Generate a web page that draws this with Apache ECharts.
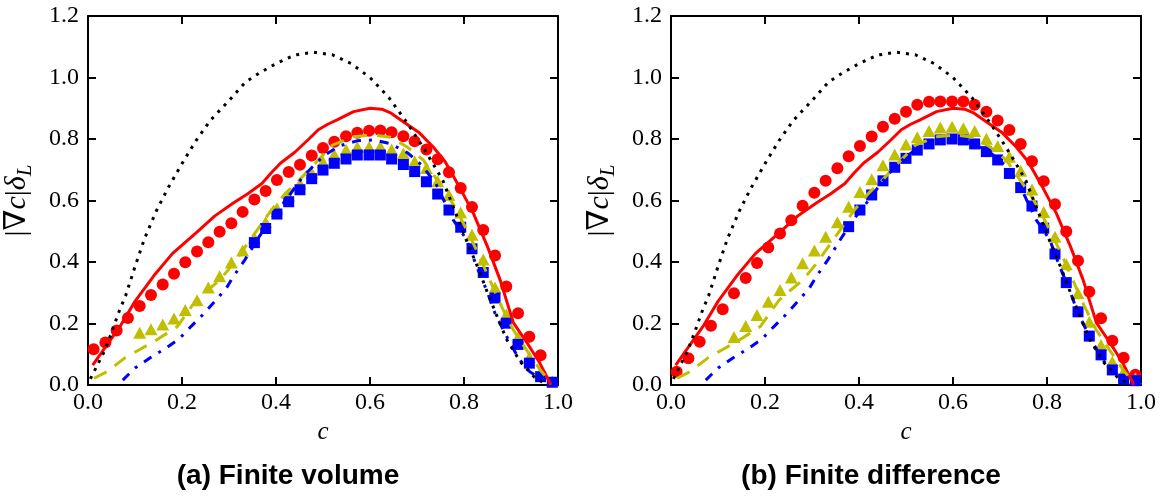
<!DOCTYPE html>
<html>
<head>
<meta charset="utf-8">
<script src="https://cdn.jsdelivr.net/npm/echarts@6/dist/echarts.min.js"></script>
<style>
html,body{margin:0;padding:0;background:#fff;}
#chart{width:1172px;height:499px;}
</style>
</head>
<body>
<div id="chart"></div>
<script>
// ---------- tick labels ----------
const xTickLabels = ['0.0','0.2','0.4','0.6','0.8','1.0'];
const yTickLabels = ['0.0','0.2','0.4','0.6','0.8','1.0','1.2'];
const panelTitles = ['(a) Finite volume', '(b) Finite difference'];

// ---------- marker c positions ----------
const cMarkers = [0.012,0.037,0.061,0.085,0.110,0.134,0.159,0.183,0.207,0.232,0.256,0.280,0.305,0.329,0.354,0.378,0.402,0.427,0.451,0.476,0.500,0.524,0.549,0.573,0.598,0.622,0.646,0.671,0.695,0.720,0.744,0.768,0.793,0.817,0.841,0.866,0.890,0.915,0.939,0.963,0.988];

// ---------- (a) finite volume markers ----------
const fvCircles = [0.116,0.138,0.177,0.218,0.257,0.293,0.327,0.362,0.399,0.434,0.464,0.498,0.526,0.563,0.603,0.631,0.667,0.693,0.716,0.746,0.771,0.791,0.809,0.820,0.827,0.828,0.822,0.809,0.793,0.766,0.734,0.692,0.641,0.579,0.504,0.421,0.320,0.233,0.157,0.097,null];
const fvTriangles = [null,null,null,null,0.170,0.181,0.197,0.216,0.244,0.276,0.317,0.354,0.398,0.437,0.479,0.530,0.575,0.615,0.655,0.690,0.725,0.750,0.765,0.774,0.774,0.776,0.766,0.753,0.728,0.706,0.663,0.618,0.561,0.489,0.408,0.317,0.229,0.155,0.090,0.040,0.012];
const fvSquares = [null,null,null,null,null,null,null,null,null,null,null,null,null,null,0.463,0.509,0.556,0.596,0.635,0.671,0.699,0.721,0.735,0.748,0.748,0.748,0.735,0.717,0.694,0.661,0.621,0.569,0.513,0.443,0.366,0.283,0.201,0.132,0.071,0.027,0.009];

// ---------- (b) finite difference markers ----------
const fdCircles = [0.043,0.087,0.141,0.193,0.246,0.298,0.348,0.397,0.447,0.493,0.536,0.583,0.625,0.664,0.705,0.744,0.777,0.808,0.840,0.866,0.889,0.911,0.921,0.922,0.922,0.922,0.911,0.889,0.860,0.829,0.784,0.728,0.663,0.588,0.499,0.404,0.303,0.217,0.144,0.089,0.033];
const fdTriangles = [null,null,null,null,null,0.156,0.192,0.228,0.271,0.309,0.350,0.396,0.437,0.482,0.529,0.580,0.628,0.669,0.715,0.750,0.782,0.806,0.826,0.837,0.840,0.835,0.826,0.801,0.777,0.742,0.697,0.636,0.563,0.482,0.393,0.298,0.206,0.130,0.076,0.043,0.022];
const fdSquares = [null,null,null,null,null,null,null,null,null,null,null,null,null,null,null,0.515,0.569,0.618,0.664,0.708,0.737,0.764,0.784,0.797,0.800,0.797,0.784,0.759,0.732,0.688,0.642,0.582,0.510,0.426,0.333,0.238,0.159,0.098,0.049,0.019,0.014];

// ---------- reference lines (same in both panels) ----------
const laminarC = [0.005,0.02,0.035,0.05,0.065,0.08,0.10,0.12,0.145,0.17,0.20,0.23,0.26,0.30,0.335,0.365,0.40,0.44,0.48,0.52,0.56,0.60,0.64,0.68,0.71,0.73,0.755,0.80,0.83,0.85,0.87,0.89,0.92,0.95,0.975];
const laminarV = [0.020,0.065,0.110,0.170,0.235,0.290,0.385,0.475,0.565,0.640,0.720,0.795,0.860,0.925,0.985,1.015,1.045,1.073,1.082,1.074,1.045,1.000,0.935,0.850,0.780,0.730,0.665,0.490,0.380,0.300,0.225,0.150,0.075,0.025,0.002];

const redC = [0.01,0.04,0.07,0.10,0.14,0.18,0.23,0.27,0.31,0.34,0.37,0.39,0.41,0.44,0.47,0.49,0.51,0.53,0.565,0.60,0.625,0.645,0.67,0.705,0.735,0.76,0.79,0.82,0.85,0.877,0.905,0.935,0.96,0.985];
const redV = [0.065,0.130,0.195,0.272,0.355,0.428,0.495,0.550,0.593,0.622,0.655,0.690,0.722,0.757,0.800,0.830,0.848,0.862,0.889,0.900,0.897,0.884,0.857,0.820,0.773,0.726,0.645,0.558,0.450,0.341,0.203,0.135,0.075,0.000];

const yellowC = [0.013,0.04,0.08,0.14,0.19,0.21,0.23,0.255,0.28,0.31,0.335,0.365,0.39,0.42,0.45,0.49,0.52,0.565,0.607,0.643,0.678,0.713,0.738,0.763,0.784,0.806,0.83,0.855,0.88,0.905,0.933,0.962,0.983];
const yellowV = [0.022,0.043,0.090,0.141,0.190,0.233,0.276,0.309,0.341,0.396,0.450,0.515,0.569,0.623,0.667,0.732,0.780,0.807,0.813,0.806,0.775,0.732,0.677,0.623,0.569,0.504,0.428,0.341,0.255,0.179,0.114,0.049,0.011];

const blueC = [0.074,0.10,0.134,0.166,0.194,0.219,0.244,0.269,0.294,0.308,0.333,0.364,0.393,0.421,0.457,0.485,0.504,0.536,0.572,0.608,0.643,0.68,0.71,0.74,0.777,0.806,0.827,0.848,0.866,0.898,0.919,0.94,0.969];
const blueV = [0.016,0.055,0.090,0.120,0.150,0.190,0.228,0.271,0.314,0.350,0.405,0.482,0.547,0.602,0.677,0.721,0.748,0.778,0.794,0.797,0.785,0.755,0.715,0.655,0.537,0.472,0.385,0.309,0.233,0.136,0.081,0.043,0.016];

// ---------- helpers ----------
function pairs(xs, ys) {
  const out = [];
  for (let i = 0; i < xs.length; i++) if (ys[i] != null) out.push([xs[i], ys[i]]);
  return out;
}
const serif = "'Liberation Serif', 'DejaVu Serif', serif";
const black = '#000';
const tickFont = { fontFamily: serif, fontSize: 24, color: black };

function xAxes(g) {
  return [
    { type: 'value', gridIndex: g, position: 'bottom', min: 0, max: 1, interval: 0.2,
      axisLine: { show: true, onZero: false, lineStyle: { color: black, width: 2 } },
      axisTick: { show: true, inside: true, length: 8, lineStyle: { color: black, width: 2 } },
      axisLabel: Object.assign({ margin: 6, formatter: v => xTickLabels[Math.round(v / 0.2)] }, tickFont),
      splitLine: { show: false },
      name: 'c', nameLocation: 'middle', nameGap: 30,
      nameTextStyle: { fontFamily: serif, fontStyle: 'italic', fontSize: 25, color: black } },
    { type: 'value', gridIndex: g, position: 'top', min: 0, max: 1, interval: 0.2,
      axisLine: { show: true, onZero: false, lineStyle: { color: black, width: 2 } },
      axisTick: { show: true, inside: true, length: 8, lineStyle: { color: black, width: 2 } },
      axisLabel: { show: false }, splitLine: { show: false } }
  ];
}
function yAxes(g) {
  return [
    { type: 'value', gridIndex: g, position: 'left', min: 0, max: 1.2, interval: 0.2,
      axisLine: { show: true, onZero: false, lineStyle: { color: black, width: 2 } },
      axisTick: { show: true, inside: true, length: 8, lineStyle: { color: black, width: 2 } },
      axisLabel: Object.assign({ margin: 9, formatter: v => yTickLabels[Math.round(v / 0.2)] }, tickFont),
      splitLine: { show: false },
      name: '{n||∇}{i|c}{n||}{i|δ}{s|L}', nameLocation: 'middle', nameRotate: 90, nameGap: 52,
      nameTextStyle: {
        rich: {
          n: { fontFamily: serif, fontSize: 30, lineHeight: 38, color: black },
          i: { fontFamily: serif, fontSize: 30, fontStyle: 'italic', lineHeight: 38, color: black },
          s: { fontFamily: serif, fontSize: 21, fontStyle: 'italic', lineHeight: 38, verticalAlign: 'bottom', color: black }
        }
      } },
    { type: 'value', gridIndex: g, position: 'right', min: 0, max: 1.2, interval: 0.2,
      axisLine: { show: true, onZero: false, lineStyle: { color: black, width: 2 } },
      axisTick: { show: true, inside: true, length: 8, lineStyle: { color: black, width: 2 } },
      axisLabel: { show: false }, splitLine: { show: false } }
  ];
}

function panelSeries(g, circles, triangles, squares) {
  const xi = g * 2, yi = g * 2;
  const base = { xAxisIndex: xi, yAxisIndex: yi, animation: false, silent: true };
  return [
    Object.assign({ type: 'scatter', symbol: 'circle', symbolSize: 12, itemStyle: { color: '#ff0000', opacity: 1 },
      data: pairs(cMarkers, circles), z: 2 }, base),
    Object.assign({ type: 'scatter', symbol: 'triangle', symbolSize: [13, 12], itemStyle: { color: '#bfbf00', opacity: 1 },
      data: pairs(cMarkers, triangles), z: 2 }, base),
    Object.assign({ type: 'scatter', symbol: 'rect', symbolSize: 11, itemStyle: { color: '#0000ff', opacity: 1 },
      data: pairs(cMarkers, squares), z: 2 }, base),
    Object.assign({ type: 'line', showSymbol: false, symbol: 'none', data: pairs(redC, redV), z: 3,
      lineStyle: { color: '#ff0000', width: 3 } }, base),
    Object.assign({ type: 'line', showSymbol: false, symbol: 'none', data: pairs(yellowC, yellowV), z: 3,
      lineStyle: { color: '#bfbf00', width: 3, type: [14, 10], cap: 'butt' } }, base),
    Object.assign({ type: 'line', showSymbol: false, symbol: 'none', data: pairs(blueC, blueV), z: 3,
      lineStyle: { color: '#0000ff', width: 3, type: [9, 8, 3, 8], cap: 'butt' } }, base),
    Object.assign({ type: 'line', showSymbol: false, symbol: 'none', data: pairs(laminarC, laminarV), z: 4,
      lineStyle: { color: '#000000', width: 3, type: [3, 6], cap: 'butt' } }, base)
  ];
}

const chart = echarts.init(document.getElementById('chart'), null, { renderer: 'canvas' });
chart.setOption({
  animation: false,
  backgroundColor: '#ffffff',
  grid: [
    { left: 88, top: 16, width: 470, height: 369, containLabel: false },
    { left: 671, top: 16, width: 470, height: 369, containLabel: false }
  ],
  xAxis: xAxes(0).concat(xAxes(1)),
  yAxis: yAxes(0).concat(yAxes(1)),
  series: panelSeries(0, fvCircles, fvTriangles, fvSquares)
    .concat(panelSeries(1, fdCircles, fdTriangles, fdSquares)),
  graphic: [
    { type: 'text', x: 288, y: 476, silent: true,
      style: { text: panelTitles[0], font: "bold 28px 'Liberation Sans', Arial, sans-serif", fill: black, textAlign: 'center', textVerticalAlign: 'middle' } },
    { type: 'text', x: 871, y: 476, silent: true,
      style: { text: panelTitles[1], font: "bold 28px 'Liberation Sans', Arial, sans-serif", fill: black, textAlign: 'center', textVerticalAlign: 'middle' } }
  ]
});
</script>
</body>
</html>
